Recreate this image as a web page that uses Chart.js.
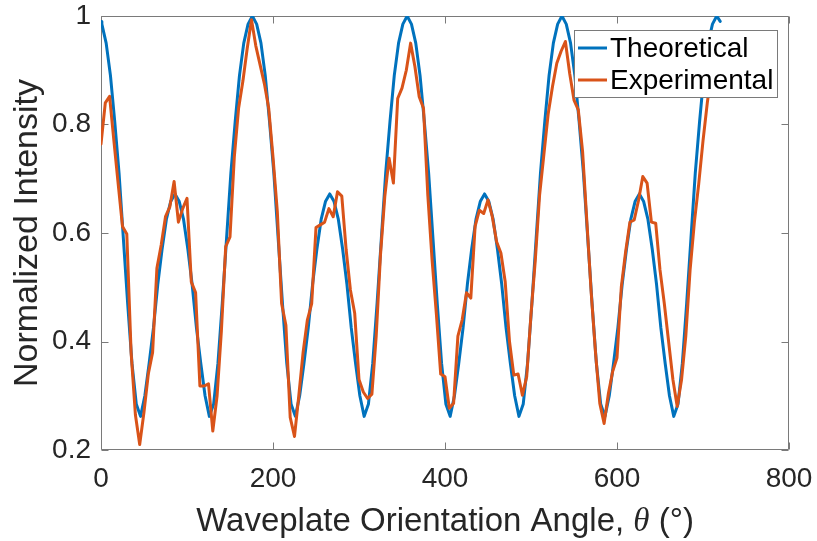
<!DOCTYPE html>
<html><head><meta charset="utf-8">
<script src="https://cdn.jsdelivr.net/npm/chart.js@4.4.0/dist/chart.umd.min.js"></script>
<style>html,body{margin:0;padding:0;background:#fff;}canvas{display:block;}</style>
</head><body>
<canvas id="c" width="817" height="541"></canvas>
<script>
const theoryAngles = [0,1,6,11,16,21,26,31,36,41,46,51,56,61,66,71,76,81,86,91,96,101,106,111,116,121,126,131,136,141,146,151,156,161,166,171,176,181,186,191,196,201,206,211,216,221,226,231,236,241,246,251,256,261,266,271,276,281,286,291,296,301,306,311,316,321,326,331,336,341,346,351,356,361,366,371,376,381,386,391,396,401,406,411,416,421,426,431,436,441,446,451,456,461,466,471,476,481,486,491,496,501,506,511,516,521,526,531,536,541,546,551,556,561,566,571,576,581,586,591,596,601,606,611,616,621,626,631,636,641,646,651,656,661,666,671,676,681,686,691,696,701,706,711,716,720];
const theoryValues = [0.990,
0.985,0.950,0.890,0.805,0.710,0.590,0.470,0.360,0.285,0.262,0.300,0.360,0.425,0.505,0.570,0.625,0.658,0.672,0.658,0.625,0.570,0.505,0.425,0.360,0.300,0.262,0.285,0.360,0.470,0.590,0.710,0.805,0.890,0.950,0.985,1.000,
0.985,0.950,0.890,0.805,0.710,0.590,0.470,0.360,0.285,0.262,0.300,0.360,0.425,0.505,0.570,0.625,0.658,0.672,0.658,0.625,0.570,0.505,0.425,0.360,0.300,0.262,0.285,0.360,0.470,0.590,0.710,0.805,0.890,0.950,0.985,1.000,
0.985,0.950,0.890,0.805,0.710,0.590,0.470,0.360,0.285,0.262,0.300,0.360,0.425,0.505,0.570,0.625,0.658,0.672,0.658,0.625,0.570,0.505,0.425,0.360,0.300,0.262,0.285,0.360,0.470,0.590,0.710,0.805,0.890,0.950,0.985,1.000,
0.985,0.950,0.890,0.805,0.710,0.590,0.470,0.360,0.285,0.262,0.300,0.360,0.425,0.505,0.570,0.625,0.658,0.672,0.658,0.625,0.570,0.505,0.425,0.360,0.300,0.262,0.285,0.360,0.470,0.590,0.710,0.805,0.890,0.950,0.985,1.000,
0.990];
const expAngles = [0,5,10,15,20,25,30,35,40,45,50,55,60,65,70,75,80,85,90,95,100,105,110,115,120,125,130,135,140,145,150,155,160,165,170,175,180,185,190,195,200,205,210,215,220,225,230,235,240,245,250,255,260,265,270,275,280,285,290,295,300,305,310,315,320,325,330,335,340,345,350,355,360,365,370,375,380,385,390,395,400,405,410,415,420,425,430,435,440,445,450,455,460,465,470,475,480,485,490,495,500,505,510,515,520,525,530,535,540,545,550,555,560,565,570,575,580,585,590,595,600,605,610,615,620,625,630,635,640,645,650,655,660,665,670,675,680,685,690,695,700,705,710,715];
const expValues = [0.764,0.840,0.852,0.770,0.690,0.612,0.598,0.380,0.265,0.210,0.270,0.340,0.380,0.535,0.578,0.630,0.648,0.695,0.620,0.645,
0.664,0.510,0.490,0.318,0.318,0.322,0.235,0.300,0.420,0.575,0.593,0.740,0.830,0.880,0.940,0.993,0.945,0.910,0.875,0.830,
0.740,0.640,0.470,0.430,0.260,0.225,0.300,0.380,0.440,0.470,0.610,0.615,0.620,0.645,0.630,0.676,0.668,0.570,0.495,0.452,
0.330,0.307,0.295,0.303,0.410,0.560,0.667,0.738,0.692,0.848,0.867,0.900,0.950,0.907,0.851,0.830,0.670,0.550,0.450,0.340,
0.335,0.277,0.286,0.410,0.440,0.490,0.480,0.612,0.642,0.636,0.661,0.630,0.584,0.563,0.510,0.400,0.338,0.340,0.301,0.335,
0.450,0.550,0.670,0.745,0.820,0.870,0.913,0.935,0.953,0.894,0.845,0.827,0.750,0.620,0.490,0.380,0.286,0.249,0.304,0.345,
0.370,0.500,0.565,0.620,0.624,0.660,0.704,0.692,0.620,0.618,0.532,0.470,0.400,0.330,0.280,0.329,0.410,0.532,0.620,0.690,
0.770,0.840,0.900,0.960];
const xTickValues = [0,200,400,600,800];
const xTickLabels = ['0','200','400','600','800'];
const yTickValues = [0.2,0.4,0.6,0.8,1];
const yTickLabels = ['0.2','0.4','0.6','0.8','1'];
const seriesNames = ['Theoretical','Experimental'];
const seriesColors = ['#0072BD','#D95319'];
const xTitleParts = ['Waveplate Orientation Angle, ', '\u03B8', ' (\u00B0)'];
const yTitle = 'Normalized Intensity';

const FONT = "'Liberation Sans', Arial, Helvetica, sans-serif";
const SERIF = "'Liberation Serif', 'Times New Roman', serif";
const AXIS_COLOR = '#7a7a7a';
const TEXT_COLOR = '#262626';

function pts(xs, ys){ return xs.map((x,i)=>({x:x, y:ys[i]})); }

const framePlugin = {
  id: 'frame',
  beforeDatasetsDraw(chart){
    const {ctx, chartArea:a, scales:{x, y}} = chart;
    ctx.save();
    ctx.strokeStyle = AXIS_COLOR; ctx.lineWidth = 1;
    ctx.beginPath();
    const L = Math.round(a.left)+0.5, R = Math.round(a.right)-0.5, T = Math.round(a.top)+0.5, B = Math.round(a.bottom)-0.5;
    ctx.moveTo(L,T); ctx.lineTo(R,T); ctx.lineTo(R,B); ctx.lineTo(L,B); ctx.closePath();
    const tl = 7;
    xTickValues.forEach(v=>{ const px = Math.round(x.getPixelForValue(v))+0.5; ctx.moveTo(px,B); ctx.lineTo(px,B-tl); ctx.moveTo(px,T); ctx.lineTo(px,T+tl); });
    yTickValues.forEach(v=>{ const py = Math.round(y.getPixelForValue(v))+0.5; ctx.moveTo(L,py); ctx.lineTo(L+tl,py); ctx.moveTo(R,py); ctx.lineTo(R-tl,py); });
    ctx.stroke();
    ctx.restore();
  }
};

const legendPlugin = {
  id: 'boxLegend',
  afterDatasetsDraw(chart){
    const {ctx, chartArea:a} = chart;
    ctx.save();
    const bx = a.right - 215, by = a.top + 14, bw = 203, bh = 67;
    ctx.fillStyle = '#ffffff';
    ctx.fillRect(bx, by, bw, bh);
    ctx.strokeStyle = AXIS_COLOR; ctx.lineWidth = 1;
    ctx.strokeRect(Math.round(bx)+0.5, Math.round(by)+0.5, bw, bh);
    ctx.font = '28px ' + FONT;
    ctx.textBaseline = 'alphabetic';
    ctx.textAlign = 'left';
    const rows = [{ly: by+18, ty: by+27}, {ly: by+50, ty: by+59}];
    seriesNames.forEach((name,i)=>{
      ctx.strokeStyle = seriesColors[i]; ctx.lineWidth = 3;
      ctx.beginPath(); ctx.moveTo(bx+4, rows[i].ly); ctx.lineTo(bx+33, rows[i].ly); ctx.stroke();
      ctx.fillStyle = '#000000';
      ctx.fillText(name, bx+36, rows[i].ty);
    });
    ctx.restore();
  }
};

const xTitlePlugin = {
  id: 'xTitle',
  afterDraw(chart){
    const {ctx, chartArea:a} = chart;
    ctx.save();
    const fonts = ['33px ' + FONT, 'italic 33px ' + SERIF, '33px ' + FONT];
    const widths = xTitleParts.map((t,i)=>{ ctx.font = fonts[i]; return ctx.measureText(t).width; });
    const total = widths.reduce((s,w)=>s+w,0);
    let x = (a.left + a.right)/2 - total/2;
    const y = 531;
    ctx.fillStyle = TEXT_COLOR; ctx.textBaseline = 'alphabetic'; ctx.textAlign = 'left';
    xTitleParts.forEach((t,i)=>{ ctx.font = fonts[i]; ctx.fillText(t, x, y); x += widths[i]; });
    ctx.restore();
  }
};

new Chart(document.getElementById('c'), {
  type: 'line',
  data: {
    datasets: [
      { label: seriesNames[0], data: pts(theoryAngles, theoryValues), borderColor: seriesColors[0], backgroundColor: seriesColors[0], borderWidth: 3, pointRadius: 0, tension: 0, fill: false, order: 1, borderJoinStyle: 'round', borderCapStyle: 'round' },
      { label: seriesNames[1], data: pts(expAngles, expValues), borderColor: seriesColors[1], backgroundColor: seriesColors[1], borderWidth: 3, pointRadius: 0, tension: 0, fill: false, order: 0, borderJoinStyle: 'round', borderCapStyle: 'round' }
    ]
  },
  options: {
    responsive: false,
    animation: false,
    devicePixelRatio: 1,
    layout: { padding: { left: 0, right: 28, top: 16, bottom: 0 } },
    plugins: { legend: { display: false }, tooltip: { enabled: false } },
    scales: {
      x: {
        type: 'linear', min: 0, max: 800,
        afterBuildTicks: s => { s.ticks = xTickValues.map(v => ({value: v})); },
        afterFit: s => { s.height = 91; s.paddingLeft = 0; s.paddingRight = 0; },
        grid: { display: false, drawTicks: false },
        border: { display: false },
        ticks: { padding: 15, color: TEXT_COLOR, font: { family: FONT, size: 28, lineHeight: 1 }, maxRotation: 0, autoSkip: false,
                 callback: (v, i) => xTickLabels[i] },
        title: { display: false }
      },
      y: {
        type: 'linear', min: 0.2, max: 1,
        afterBuildTicks: s => { s.ticks = yTickValues.map(v => ({value: v})); },
        afterFit: s => { s.width = 101; s.paddingTop = 0; s.paddingBottom = 0; },
        grid: { display: false, drawTicks: false },
        border: { display: false },
        ticks: { padding: 10, color: TEXT_COLOR, font: { family: FONT, size: 28, lineHeight: 1 }, autoSkip: false,
                 callback: (v, i) => yTickLabels[i] },
        title: { display: true, text: yTitle, color: TEXT_COLOR, font: { family: FONT, size: 34, lineHeight: 1 }, padding: { top: 11, bottom: 0 } }
      }
    }
  },
  plugins: [framePlugin, legendPlugin, xTitlePlugin]
});
</script>
</body></html>
